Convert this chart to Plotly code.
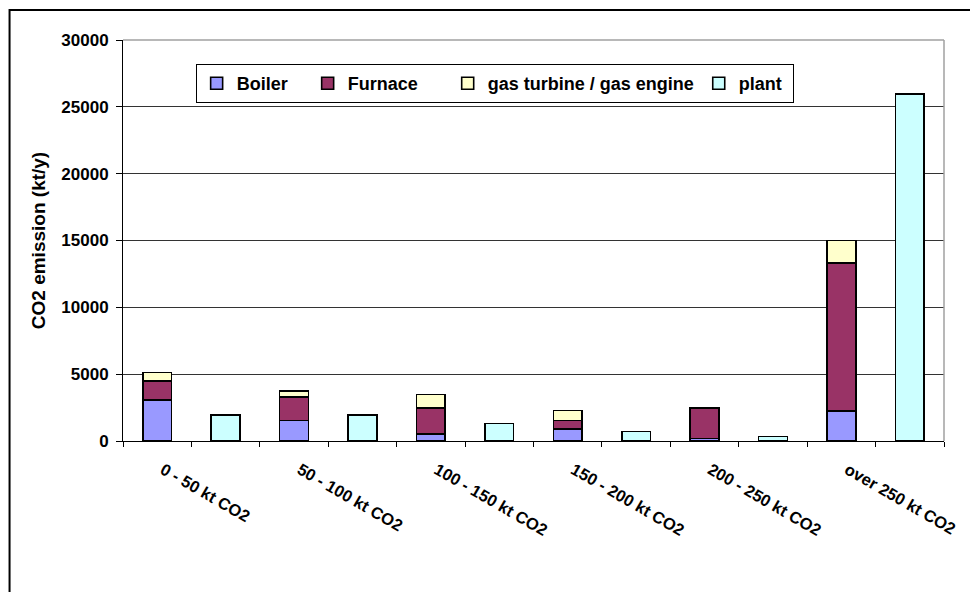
import plotly.graph_objects as go

# Emission classes (size bands of installations)
categories = ["0 - 50 kt CO2", "50 - 100 kt CO2", "100 - 150 kt CO2",
              "150 - 200 kt CO2", "200 - 250 kt CO2", "over 250 kt CO2"]

# CO2 emission per equipment type, kt/y
boiler = [3070, 1520, 530, 880, 200, 2250]
furnace = [1400, 1790, 1920, 640, 2270, 11070]
gas_turbine = [660, 450, 1020, 750, 0, 1670]
# total emission of the plants in each class, kt/y
plant = [1950, 1950, 1320, 700, 350, 25950]

y_ticks = [0, 5000, 10000, 15000, 20000, 25000, 30000]

FONT = "Arial, 'Liberation Sans', sans-serif"
NB = "\u00a0"

# each class gets two slots: equipment stack, then plant total
x_stack = [2 * i + 1 for i in range(len(categories))]
x_plant = [2 * i + 2 for i in range(len(categories))]
slot_edges = [k + 0.5 for k in range(0, 2 * len(categories) + 1)]

bar_line = dict(color="black", width=1.6)
BW = 0.42

fig = go.Figure()
fig.add_trace(go.Bar(name="Boiler" + NB * 3, x=x_stack, y=boiler, width=BW,
                     marker=dict(color="#9999FF", line=bar_line)))
fig.add_trace(go.Bar(name="Furnace" + NB * 5, x=x_stack, y=furnace, width=BW,
                     marker=dict(color="#993366", line=bar_line)))
fig.add_trace(go.Bar(name="gas turbine / gas engine", x=x_stack, y=gas_turbine,
                     width=BW, marker=dict(color="#FFFFCC", line=bar_line)))
fig.add_trace(go.Bar(name="plant" + NB, x=x_plant, y=plant, width=BW,
                     marker=dict(color="#CCFFFF", line=bar_line)))

L, R, T, B = 123, 22, 40, 151
W, H = 970, 592
pw, ph = W - L - R, H - T - B

fig.update_layout(
    width=W, height=H,
    margin=dict(l=L, r=R, t=T, b=B),
    barmode="stack",
    paper_bgcolor="white",
    plot_bgcolor="white",
    font=dict(family=FONT, color="black"),
    xaxis=dict(
        range=[0.5, 2 * len(categories) + 0.5],
        tickmode="array", tickvals=x_stack, ticktext=categories,
        ticks="", tickangle=30, ticklabelstandoff=12, ticklabelshift=6,
        tickfont=dict(family=FONT, size=16.5, weight="bold", color="black"),
        showgrid=False, zeroline=False,
        showline=True, linecolor="black", linewidth=1,
        minor=dict(tickmode="array", tickvals=slot_edges, ticks="outside",
                   ticklen=5, tickcolor="black", tickwidth=1, showgrid=False),
    ),
    yaxis=dict(
        range=[0, 30000],
        tickmode="array", tickvals=y_ticks, ticktext=[str(v) for v in y_ticks],
        ticks="outside", ticklen=6, tickcolor="black", ticklabelstandoff=4,
        tickfont=dict(family=FONT, size=17, weight="bold", color="black"),
        showgrid=True, gridcolor="#333333", gridwidth=1,
        zeroline=False,
        showline=True, linecolor="black", linewidth=1,
        title=dict(text="CO2 emission (kt/y)", standoff=10,
                   font=dict(family=FONT, size=19, weight="bold", color="black")),
    ),
    legend=dict(
        orientation="h", traceorder="normal",
        x=(196 - L) / pw, y=(H - B - 64) / ph,
        xanchor="left", yanchor="top",
        bgcolor="white", bordercolor="black", borderwidth=1,
        font=dict(family=FONT, size=18, weight="bold", color="black"),
    ),
    showlegend=True,
)

# grey plot-area frame on top and right, outer chart frame
grey = dict(color="#a0a0a0", width=1.5)
fig.add_shape(type="line", xref="paper", yref="paper", x0=0, x1=1, y0=1, y1=1,
              line=grey, layer="above")
fig.add_shape(type="line", xref="paper", yref="paper", x0=1, x1=1, y0=0, y1=1,
              line=grey, layer="above")
fig.add_shape(type="rect", xref="paper", yref="paper",
              x0=(9 - L) / pw, x1=(W + 20 - L) / pw,
              y0=(H - B - (H + 20)) / ph, y1=(H - B - 10) / ph,
              line=dict(color="black", width=2), layer="above")

fig.write_html("out.html")
